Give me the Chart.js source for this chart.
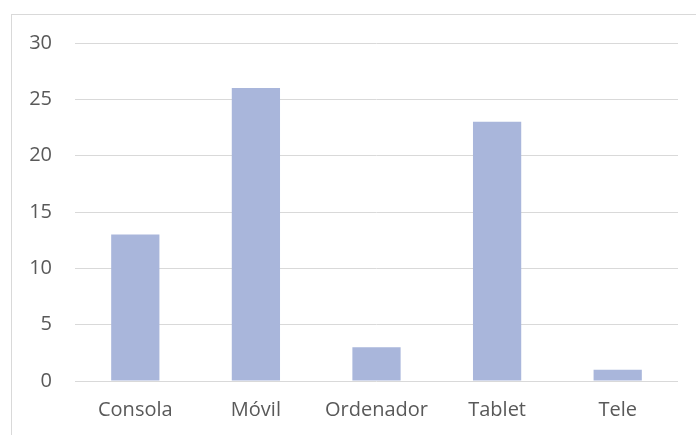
<!DOCTYPE html>
<html>
<head>
<meta charset="utf-8">
<script src="https://cdn.jsdelivr.net/npm/chart.js@4"></script>
<style>
    body { margin: 0; background: #fff; }
    #wrap { position: relative; width: 696px; height: 435px; }
    #frame { position: absolute; left: 11px; top: 14px; width: 690px; height: 440px; border: 1px solid #d9d9d9; box-sizing: border-box; }
    canvas { position: absolute; left: 0; top: 0; }
</style>
</head>
<body>
<div id="wrap">
    <div id="frame"></div>
    <canvas id="chart" width="696" height="435"></canvas>
</div>
<script>
const categories = ["Consola", "Móvil", "Ordenador", "Tablet", "Tele"];
const values = [13, 26, 3, 23, 1];
const yTicks = [0, 5, 10, 15, 20, 25, 30];

const ctx = document.getElementById('chart').getContext('2d');
new Chart(ctx, {
    type: 'bar',
    data: {
        labels: categories,
        datasets: [{
            data: values,
            backgroundColor: '#a9b6db',
            barPercentage: 0.4,
            categoryPercentage: 1
        }]
    },
    options: {
        responsive: false,
        animation: false,
        layout: { padding: { left: 0, right: 18, top: 43, bottom: 0 } },
        plugins: { legend: { display: false }, tooltip: { enabled: false } },
        scales: {
            x: {
                grid: { display: false, drawTicks: false },
                border: { display: false },
                ticks: { color: '#595959', font: { family: 'Open Sans', size: 20 }, padding: 17 },
                afterFit: function (scale) { scale.height = 54; }
            },
            y: {
                min: 0,
                max: 30,
                afterBuildTicks: function (scale) { scale.ticks = yTicks.map(v => ({ value: v })); },
                grid: { color: '#d9d9d9', lineWidth: 1, drawTicks: false },
                border: { display: false },
                ticks: { color: '#595959', font: { family: 'Open Sans', size: 20 }, padding: 23 },
                afterFit: function (scale) { scale.width = 75; }
            }
        }
    }
});
</script>
</body>
</html>
